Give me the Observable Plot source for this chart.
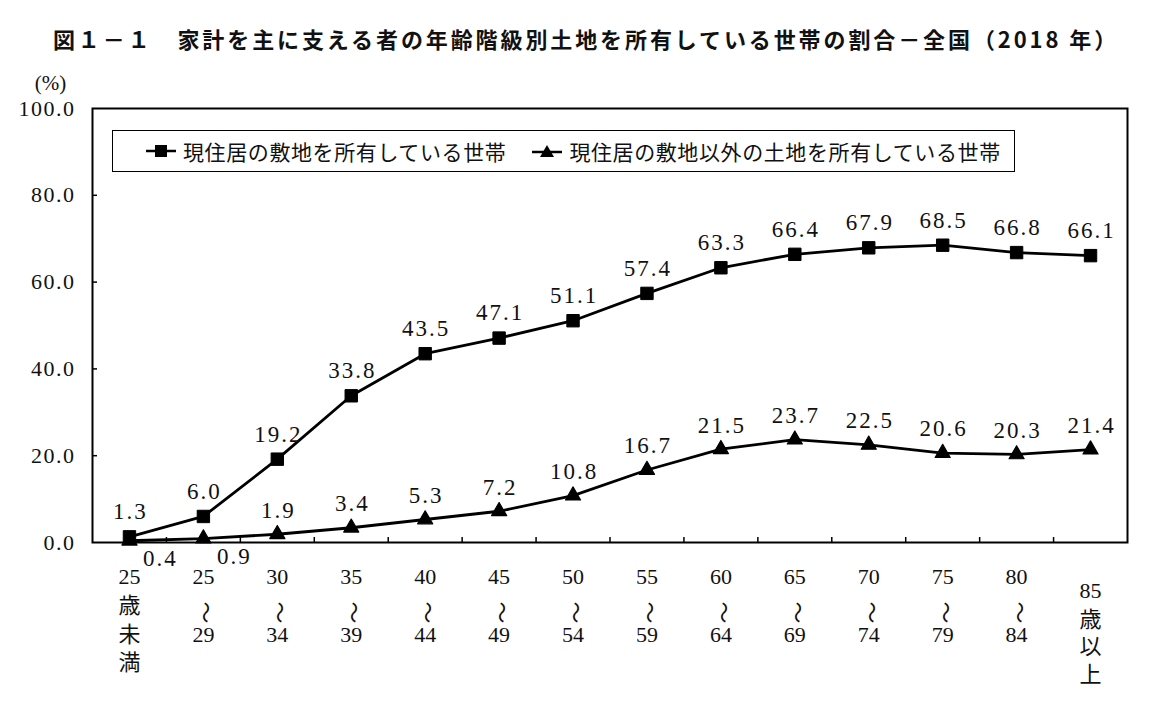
<!DOCTYPE html>
<html><head><meta charset="utf-8">
<script src="https://cdn.jsdelivr.net/npm/d3@7"></script>
<script src="https://cdn.jsdelivr.net/npm/@observablehq/plot@0.6"></script>
<style>
body{margin:0;background:#fff;width:1160px;height:712px;overflow:hidden;position:relative;font-family:"Liberation Serif","Noto Sans CJK JP",serif;}
#title{position:absolute;left:0;top:0;box-sizing:border-box;padding-left:12px;width:1160px;height:60px;line-height:76px;text-align:center;font-family:"Noto Sans CJK JP",sans-serif;font-weight:bold;font-size:22px;letter-spacing:2.9px;color:#111;}
#chart{position:absolute;left:0;top:60px;}
#legend{position:absolute;left:112px;top:130px;width:901px;height:40px;border:1.5px solid #000;background:#fff;display:flex;align-items:center;font-family:"Noto Sans CJK JP",sans-serif;font-size:21px;letter-spacing:0.6px;color:#111;}
#legend .it{display:flex;align-items:center;}
#legend svg{margin-right:6px;}
.num text{letter-spacing:2px;}
.ytl text{letter-spacing:1.5px;}
</style></head><body>
<div id="title">図１－１　家計を主に支える者の年齢階級別土地を所有している世帯の割合－全国（2018 年）</div>
<div id="chart"></div>
<div id="legend">
 <div class="it" style="margin-left:32px"><svg width="32" height="16"><line x1="1" y1="8" x2="31" y2="8" stroke="#000" stroke-width="2.5"/><rect x="10" y="2" width="12" height="12" fill="#000"/></svg><span>現住居の敷地を所有している世帯</span></div>
 <div class="it" style="margin-left:25px"><svg width="32" height="16"><line x1="1" y1="9" x2="31" y2="9" stroke="#000" stroke-width="2.5"/><path d="M16,2 L23,14 L9,14 Z" fill="#000"/></svg><span>現住居の敷地以外の土地を所有している世帯</span></div>
</div>
<script>
const categories = ["25歳未満","25～29","30～34","35～39","40～44","45～49","50～54","55～59","60～64","65～69","70～74","75～79","80～84","85歳以上"];
const xTickLabels = ["25\n歳\n未\n満","25\n～\n29","30\n～\n34","35\n～\n39","40\n～\n44","45\n～\n49","50\n～\n54","55\n～\n59","60\n～\n64","65\n～\n69","70\n～\n74","75\n～\n79","80\n～\n84","85\n歳\n以\n上"];
const ownHome = [1.3, 6.0, 19.2, 33.8, 43.5, 47.1, 51.1, 57.4, 63.3, 66.4, 67.9, 68.5, 66.8, 66.1];
const ownOther = [0.4, 0.9, 1.9, 3.4, 5.3, 7.2, 10.8, 16.7, 21.5, 23.7, 22.5, 20.6, 20.3, 21.4];
const yTicks = [0, 20, 40, 60, 80, 100];

const rows = categories.map((c, i) => ({i, c, home: ownHome[i], other: ownOther[i]}));
const boundaries = categories.slice(1).map((c, i) => i + 0.5);
const tickLines = xTickLabels.flatMap((s, i) => s.split("\n").map((t, k) => ({i, k, t, last: i === categories.length - 1})));
const serif = "'Liberation Serif','Noto Sans CJK JP',serif";
const rowOffsets = [41, 70, 99, 127];
const lastOffsets = [55, 84, 111, 139];

const tickLabelMarks = [0, 1, 2, 3].flatMap(k => [
  Plot.text(tickLines.filter(d => d.k === k && !d.last && d.t !== "～"), {
    x: "i", text: "t", frameAnchor: "bottom", dy: rowOffsets[k], fontSize: 22
  }),
  Plot.text(tickLines.filter(d => d.k === k && !d.last && d.t === "～"), {
    x: "i", text: "t", frameAnchor: "bottom", dy: rowOffsets[k], dx: -5, rotate: 90,
    fontSize: 22, fontFamily: "Noto Sans CJK JP"
  }),
  Plot.text(tickLines.filter(d => d.k === k && d.last), {
    x: "i", text: "t", frameAnchor: "bottom", dy: lastOffsets[k], fontSize: 22
  })
]);

const chart = Plot.plot({
  width: 1160, height: 652,
  marginTop: 48, marginBottom: 170, marginLeft: 92, marginRight: 33,
  x: {type: "linear", domain: [-0.5, categories.length - 0.5], axis: null},
  y: {domain: [0, 100], axis: null},
  style: {fontFamily: serif, fontSize: "23px", color: "#111", background: "#fff", overflow: "visible"},
  marks: [
    Plot.frame({stroke: "#000", strokeWidth: 2}),
    Plot.tickY(yTicks.slice(1, -1), {y: d => d, insetRight: 1030, stroke: "#000", strokeWidth: 1.5}),
    Plot.tickX(boundaries, {x: d => d, insetTop: 429, stroke: "#000", strokeWidth: 1.5}),
    Plot.text(yTicks, {y: d => d, text: d => d.toFixed(1), frameAnchor: "left", textAnchor: "end", dx: -17, fontSize: 22, className: "ytl"}),
    Plot.text(["(%)"], {text: d => d, frameAnchor: "top-left", textAnchor: "middle", dx: -42, dy: -33, fontSize: 21}),
    ...tickLabelMarks,
    Plot.line(rows, {x: "i", y: "home", stroke: "#000", strokeWidth: 2.8}),
    Plot.line(rows, {x: "i", y: "other", stroke: "#000", strokeWidth: 2.8}),
    Plot.dot(rows, {x: "i", y: "home", symbol: "square", r: 7, fill: "#000", stroke: "#000", strokeWidth: 1, strokeLinejoin: "round"}),
    Plot.dot(rows, {x: "i", y: "other", symbol: "triangle", r: 5.6, fill: "#000", stroke: "#000", strokeWidth: 1.2, strokeLinejoin: "round"}),
    Plot.text(rows, {x: "i", y: "home", text: d => d.home.toFixed(1), dy: -25, dx: 1, fontSize: 23, className: "num"}),
    Plot.text(rows.filter(d => d.i >= 2), {x: "i", y: "other", text: d => d.other.toFixed(1), dy: -24, dx: 1, fontSize: 23, className: "num"}),
    Plot.text(rows.filter(d => d.i < 2), {x: "i", y: "other", text: d => d.other.toFixed(1), dx: 31, dy: 18, fontSize: 23, className: "num"})
  ]
});
document.getElementById("chart").appendChild(chart);
</script>
</body></html>
